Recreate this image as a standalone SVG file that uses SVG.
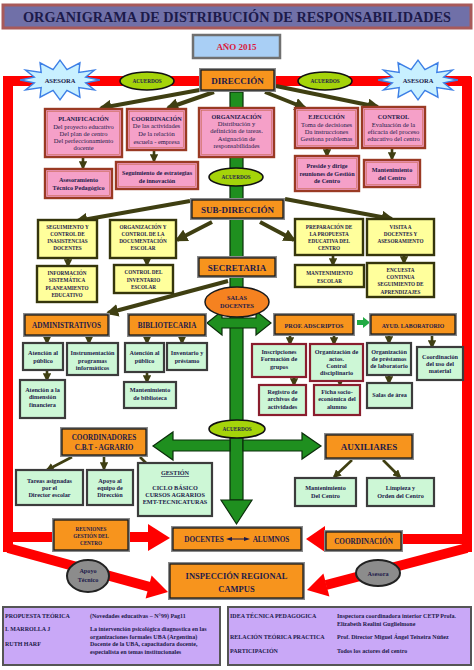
<svg xmlns="http://www.w3.org/2000/svg" width="474" height="670" viewBox="0 0 474 670">
<defs>
<style>
text{font-family:"Liberation Serif","Times New Roman",serif;fill:#1c1a4a;text-anchor:middle;font-weight:bold}
.n{font-weight:normal}
.og{fill:#8a8a8a}
.oi{fill:#f7941d;stroke:#1a1a1a;stroke-width:1.3}
.pk{fill:#f5a0c8;stroke:#9a3a24;stroke-width:2.4}
.pki{fill:none;stroke:#c86a54;stroke-width:0.6}
.yl{fill:#ffff9c;stroke:#35350c;stroke-width:2.4}
.gr{fill:#cdf7d6;stroke:#3c3c3c;stroke-width:2.2}
.grm{fill:#cdf7d6;stroke:#8a1e2e;stroke-width:2.2}
.ac{fill:#a5d40a;stroke:#111;stroke-width:1.6}
.con{stroke:#3f3f12;fill:none;marker-end:url(#ah)}
.w4{stroke-width:4}
.w3{stroke-width:2.6}
.red{fill:none;stroke:#ff0000;stroke-width:10}
.redf{fill:#ff0000}
.gf{fill:#1f8f1f;stroke:#0b2e0b;stroke-width:1.2}
.bu{fill:#c8f0ff;stroke:#3d7fe6;stroke-width:1.5}
.gy{fill:#8c8c8c;stroke:#222;stroke-width:2}
.pan{fill:#c9a8f7;stroke:#555;stroke-width:2}
.t5{font-size:5.2px}
.t6{font-size:6.2px}
.t65{font-size:6.5px}
.t7{font-size:7.2px}
.t9{font-size:9px}
.lt{text-anchor:start;font-size:6px}
</style>
<marker id="ah" viewBox="0 0 10 10" refX="8" refY="5" markerWidth="3.2" markerHeight="3.2" orient="auto"><path d="M0,0L10,5L0,10z" fill="#3f3f12"/></marker>
<polygon id="burst" class="bu" points="42,0 27,3.1 36.4,11 19.8,8.5 21,19.1 7.3,11.6 0,22 -7.3,11.6 -21,19.1 -19.8,8.5 -36.4,11 -27,3.1 -42,0 -27,-3.1 -36.4,-11 -19.8,-8.5 -21,-19.1 -7.3,-11.6 0,-22 7.3,-11.6 21,-19.1 19.8,-8.5 36.4,-11 27,-3.1"/>
</defs>
<rect width="474" height="670" fill="#fff"/>

<g id="title">
<rect x="3" y="5" width="468" height="23" fill="#7070a8" stroke="#a85a5a" stroke-width="3"/>
<text x="237" y="22" font-size="14" textLength="428" lengthAdjust="spacingAndGlyphs" fill="#15153f">ORGANIGRAMA DE DISTRIBUCIÓN DE RESPONSABILIDADES</text>
</g>
<g id="anio">
<rect x="193" y="35" width="87" height="23" fill="#a9cff5" stroke="#707070" stroke-width="2.5"/>
<text x="236.5" y="50" class="t9" style="fill:#d9183b">AÑO 2015</text>
</g>

<g id="frame">
<line class="red" x1="3" y1="81" x2="471" y2="81"/>
<line class="red" x1="8" y1="77" x2="8" y2="552"/>
<line class="red" x1="467" y1="77" x2="467" y2="552"/>
<line class="red" x1="8" y1="537" x2="150" y2="537" stroke-width="11"/>
<polygon class="redf" points="148,524 170,538 148,551"/>
<line class="red" x1="467" y1="539" x2="322" y2="539" stroke-width="11"/>
<polygon class="redf" points="325,526 306,539 325,552"/>
<line class="red" x1="8" y1="548" x2="150" y2="587" stroke-width="11"/>
<polygon class="redf" points="168,592 145.6,598.6 151.6,575.4"/>
<line class="red" x1="467" y1="548" x2="326" y2="585" stroke-width="11"/>
<polygon class="redf" points="307,590 329.4,596.6 323.4,573.4"/>
</g>

<g id="trunk">
<rect class="gf" x="230" y="92" width="13" height="408"/>
<polygon class="gf" points="221,500 252,500 236.5,524"/>
<polygon class="gf" points="230,440 173,440 173,432 153,446 173,460 173,451 230,451"/>
<polygon class="gf" points="243,440 302,440 302,433 321,446 302,459 302,451 243,451"/>
<polygon class="gf" points="207,323 222,311 222,318 256,318 256,311 271,323 256,335 256,328 222,328 222,335"/>
<polygon points="357,320 363,320 363,317 370,322.5 363,328 363,325 357,325" fill="#22aa44"/>
</g>

<g id="connectors">
<line class="con w4" x1="205" y1="89" x2="101" y2="108"/>
<line class="con w4" x1="214" y1="92" x2="168" y2="108"/>
<line class="con w4" x1="265" y1="92" x2="305" y2="108"/>
<line class="con w4" x1="276" y1="86" x2="378" y2="107"/>
<line class="con w3" x1="83" y1="157" x2="83" y2="168"/>
<line class="con w3" x1="154" y1="150" x2="154" y2="161"/>
<line class="con w3" x1="327" y1="148" x2="327" y2="156"/>
<line class="con w3" x1="392" y1="148" x2="392" y2="159"/>
<line class="con w4" x1="190" y1="201" x2="77" y2="221"/>
<line class="con w4" x1="212" y1="222" x2="177" y2="240"/>
<line class="con w4" x1="260" y1="222" x2="294" y2="240"/>
<line class="con w4" x1="285" y1="199" x2="392" y2="219"/>
<line class="con w3" x1="68" y1="258" x2="68" y2="266"/>
<line class="con w3" x1="147" y1="258" x2="147" y2="265"/>
<line class="con w3" x1="333" y1="255" x2="333" y2="265"/>
<line class="con w3" x1="404" y1="255" x2="404" y2="263"/>
<line class="con w4" x1="228" y1="281" x2="108" y2="313"/>
<line class="con w3" x1="47" y1="337" x2="47" y2="343"/>
<line class="con w3" x1="89" y1="337" x2="89" y2="343"/>
<line class="con w3" x1="47" y1="370" x2="47" y2="380"/>
<line class="con w3" x1="147" y1="337" x2="147" y2="343"/>
<line class="con w3" x1="182" y1="337" x2="182" y2="343"/>
<line class="con w3" x1="147" y1="372" x2="147" y2="382"/>
<line class="con w3" x1="290" y1="336" x2="290" y2="344"/>
<line class="con w3" x1="334" y1="336" x2="334" y2="344"/>
<line class="con w3" x1="294" y1="377" x2="294" y2="385"/>
<line class="con w3" x1="340" y1="380" x2="340" y2="385"/>
<line class="con w3" x1="389" y1="336" x2="389" y2="343"/>
<line class="con w3" x1="432" y1="336" x2="432" y2="347"/>
<line class="con w3" x1="389" y1="375" x2="389" y2="383"/>
<line class="con w3" x1="72" y1="457" x2="47" y2="470"/>
<line class="con w3" x1="104" y1="457" x2="104" y2="469"/>
<line class="con w3" x1="140" y1="457" x2="155" y2="472"/>
<line class="con w3" x1="352" y1="460" x2="334" y2="477"/>
<line class="con w3" x1="383" y1="460" x2="400" y2="477"/>
</g>

<g id="asesora-l"><use href="#burst" transform="translate(60,80) scale(0.95,0.9)"/><text x="60" y="83" class="t65">ASESORA</text></g>
<g id="asesora-r"><use href="#burst" transform="translate(418,80) scale(0.95,0.9)"/><text x="418" y="83" class="t65">ASESORA</text></g>
<g id="acuerdos-1"><ellipse class="ac" cx="147" cy="81" rx="27" ry="9"/><text x="147" y="83" class="t5">ACUERDOS</text></g>
<g id="acuerdos-2"><ellipse class="ac" cx="325" cy="81" rx="27" ry="9"/><text x="325" y="83" class="t5">ACUERDOS</text></g>

<g id="direccion"><rect class="og" x="199" y="68" width="77" height="24"/><rect class="oi" x="201" y="70" width="73" height="20"/><text x="237.5" y="84" class="t9">DIRECCIÓN</text></g>

<g id="planificacion"><rect class="pk" x="45" y="109" width="77" height="48"/><rect class="pki" x="47.5" y="111.5" width="72" height="43"/>
<text x="83.5" y="121" class="t6">PLANIFICACIÓN</text>
<text x="83.5" y="129" class="t65 n">Del proyecto educativo</text>
<text x="83.5" y="136" class="t65 n">Del plan de centro</text>
<text x="83.5" y="143" class="t65 n">Del perfeccionamiento</text>
<text x="83.5" y="150" class="t65 n">docente</text></g>
<g id="coordinacion"><rect class="pk" x="127" y="109" width="59" height="41"/><rect class="pki" x="129.5" y="111.5" width="54" height="36"/>
<text x="156.5" y="121" class="t6">COORDINACIÓN</text>
<text x="156.5" y="128" class="t65 n">De las actividades</text>
<text x="156.5" y="136" class="t65 n">De la relación</text>
<text x="156.5" y="144" class="t65 n">escuela - empresa</text></g>
<g id="organizacion"><rect class="pk" x="199" y="108" width="75" height="49"/><rect class="pki" x="201.5" y="110.5" width="70" height="44"/>
<text x="236.5" y="119" class="t6">ORGANIZACIÓN</text>
<text x="236.5" y="126" class="t65 n">Distribución  y</text>
<text x="236.5" y="133" class="t65 n">definición de tareas.</text>
<text x="236.5" y="141" class="t65 n">Asignación de</text>
<text x="236.5" y="148" class="t65 n">responsabilidades</text></g>
<g id="ejecucion"><rect class="pk" x="295" y="108" width="63" height="40"/><rect class="pki" x="297.5" y="110.5" width="58" height="35"/>
<text x="326.5" y="119" class="t6">EJECUCIÓN</text>
<text x="326.5" y="127" class="t65 n">Toma de decisiones</text>
<text x="326.5" y="134" class="t65 n">Da instrucciones</text>
<text x="326.5" y="141" class="t65 n">Gestiona problemas</text></g>
<g id="control"><rect class="pk" x="362" y="107" width="63" height="41"/><rect class="pki" x="364.5" y="109.5" width="58" height="36"/>
<text x="393.5" y="119" class="t6">CONTROL</text>
<text x="393.5" y="127" class="t65 n">Evaluación de la</text>
<text x="393.5" y="134" class="t65 n">eficacia del proceso</text>
<text x="393.5" y="141" class="t65 n">educativo del centro</text></g>

<g id="asesoramiento"><rect class="pk" x="45" y="169" width="67" height="29"/><rect class="pki" x="47.5" y="171.5" width="62" height="24"/>
<text x="78.5" y="182" class="t6">Asesoramiento</text><text x="78.5" y="189.5" class="t6">Técnico Pedagógico</text></g>
<g id="seguimiento-estrategias"><rect class="pk" x="116" y="162" width="82" height="27"/><rect class="pki" x="118.5" y="164.5" width="77" height="22"/>
<text x="157" y="175" class="t6">Seguimiento de estrategias</text><text x="157" y="182.5" class="t6">de innovación</text></g>
<g id="preside"><rect class="pk" x="295" y="156" width="64" height="35"/><rect class="pki" x="297.5" y="158.5" width="59" height="30"/>
<text x="327" y="168" class="t6">Preside y dirige</text><text x="327" y="175.5" class="t6">reuniones de Gestión</text><text x="327" y="183" class="t6">de Centro</text></g>
<g id="mantenimiento-centro"><rect class="pk" x="364" y="160" width="56" height="27"/><rect class="pki" x="366.5" y="162.5" width="51" height="22"/>
<text x="392" y="172" class="t6">Mantenimiento</text><text x="392" y="180" class="t6">del Centro</text></g>

<g id="acuerdos-3"><ellipse class="ac" cx="236" cy="177" rx="27" ry="9"/><text x="236" y="179" class="t5">ACUERDOS</text></g>

<g id="subdireccion"><rect class="og" x="190" y="198" width="95" height="22"/><rect class="oi" x="192" y="200" width="91" height="18"/><text x="237.5" y="213" class="t9">SUB-DIRECCIÓN</text></g>

<g id="seg-inasistencias"><rect class="yl" x="38" y="220" width="59" height="38"/>
<text x="67.5" y="229" class="t5">SEGUIMIENTO Y</text><text x="67.5" y="236" class="t5">CONTROL DE</text><text x="67.5" y="243" class="t5">INASISTENCIAS</text><text x="67.5" y="250" class="t5">DOCENTES</text></g>
<g id="org-documentacion"><rect class="yl" x="110" y="220" width="66" height="38"/>
<text x="143" y="229" class="t5">ORGANIZACIÓN  Y</text><text x="143" y="236" class="t5">CONTROL DE LA</text><text x="143" y="243" class="t5">DOCUMENTACIÓN</text><text x="143" y="250" class="t5">ESCOLAR</text></g>
<g id="informacion"><rect class="yl" x="37" y="266" width="60" height="36"/>
<text x="67" y="275" class="t5">INFORMACIÓN</text><text x="67" y="282" class="t5">SISTEMÁTICA</text><text x="67" y="290" class="t5">PLANEAMIENTO</text><text x="67" y="297" class="t5">EDUCATIVO</text></g>
<g id="control-inventario"><rect class="yl" x="114" y="265" width="59" height="28"/>
<text x="143.5" y="274" class="t5">CONTROL DEL</text><text x="143.5" y="282" class="t5">INVENTARIO</text><text x="143.5" y="289" class="t5">ESCOLAR</text></g>
<g id="preparacion"><rect class="yl" x="295" y="219" width="68" height="36"/>
<text x="329" y="229" class="t5">PREPARACIÓN DE</text><text x="329" y="236" class="t5">LA PROPUESTA</text><text x="329" y="243" class="t5">EDUCATIVA DEL</text><text x="329" y="250" class="t5">CENTRO</text></g>
<g id="visita"><rect class="yl" x="367" y="219" width="67" height="36"/>
<text x="400.5" y="229" class="t5">VISITA A</text><text x="400.5" y="236" class="t5">DOCENTES Y</text><text x="400.5" y="243" class="t5">ASESORAMIENTO</text></g>
<g id="mant-escolar"><rect class="yl" x="295" y="265" width="69" height="22"/>
<text x="329.5" y="275" class="t5">MANTENIMIENTO</text><text x="329.5" y="283" class="t5">ESCOLAR</text></g>
<g id="encuesta"><rect class="yl" x="367" y="263" width="67" height="34"/>
<text x="400.5" y="272" class="t5">ENCUESTA</text><text x="400.5" y="279" class="t5">CONTINUA</text><text x="400.5" y="286" class="t5">SEGUIMIENTO DE</text><text x="400.5" y="294" class="t5">APRENDIZAJES</text></g>

<g id="secretaria"><rect class="og" x="197" y="256" width="80" height="22"/><rect class="oi" x="199" y="258" width="76" height="18"/><text x="237" y="271" class="t9">SECRETARIA</text></g>
<g id="salas-docentes"><ellipse cx="237" cy="302" rx="32" ry="15" fill="#f58220" stroke="#1a1a1a" stroke-width="1.5"/><text x="237" y="300" class="t6">SALAS</text><text x="237" y="308" class="t6">DOCENTES</text></g>

<g id="administrativos"><rect class="og" x="23" y="313" width="87" height="24"/><rect class="oi" x="25" y="315" width="83" height="20"/><text x="66.5" y="328" class="t7">ADMINISTRATIVOS</text></g>
<g id="bibliotecaria"><rect class="og" x="127" y="313" width="80" height="24"/><rect class="oi" x="129" y="315" width="76" height="20"/><text x="167" y="328" class="t7">BIBLIOTECARIA</text></g>
<g id="prof-adscriptos"><rect class="og" x="273" y="313" width="82" height="23"/><rect class="oi" x="275" y="315" width="78" height="19"/><text x="314" y="327.5" class="t6">PROF. ADSCRIPTOS</text></g>
<g id="ayud-laboratorio"><rect class="og" x="369" y="313" width="88" height="23"/><rect class="oi" x="371" y="315" width="84" height="19"/><text x="413" y="327.5" style="font-size:5.8px">AYUD. LABORATORIO</text></g>

<g id="adm-atencion"><rect class="gr" x="23" y="343" width="40" height="27"/><text x="43" y="355" class="t6">Atención al</text><text x="43" y="363" class="t6">público</text></g>
<g id="adm-instrumentacion"><rect class="gr" x="67" y="343" width="51" height="32"/><text x="92.5" y="355" class="t6">Instrumentación</text><text x="92.5" y="363" class="t6">programas</text><text x="92.5" y="370" class="t6">informáticos</text></g>
<g id="adm-financiera"><rect class="gr" x="20" y="380" width="45" height="38"/><text x="42.5" y="392" class="t6">Atención a la</text><text x="42.5" y="399" class="t6">dimensión</text><text x="42.5" y="407" class="t6">financiera</text></g>
<g id="bib-atencion"><rect class="gr" x="125" y="343" width="39" height="29"/><text x="144.5" y="355" class="t6">Atención al</text><text x="144.5" y="363" class="t6">público</text></g>
<g id="bib-inventario"><rect class="gr" x="167" y="343" width="40" height="27"/><text x="187" y="355" class="t6">Inventario y</text><text x="187" y="363" class="t6">préstamo</text></g>
<g id="bib-mantenimiento"><rect class="gr" x="124" y="382" width="52" height="26"/><text x="150" y="392" class="t6">Mantenimiento</text><text x="150" y="400" class="t6">de biblioteca</text></g>

<g id="inscripciones"><rect class="grm" x="252" y="344" width="54" height="33"/><text x="279" y="354" class="t6">Inscripciones</text><text x="279" y="361" class="t6">Formación de</text><text x="279" y="369" class="t6">grupos</text></g>
<g id="org-actos"><rect class="grm" x="310" y="344" width="53" height="37"/><text x="336.5" y="354" class="t6">Organización de</text><text x="336.5" y="361" class="t6">actos.</text><text x="336.5" y="368" class="t6">Control</text><text x="336.5" y="375" class="t6">disciplinario</text></g>
<g id="registro"><rect class="grm" x="259" y="385" width="47" height="30"/><text x="282.5" y="394" class="t6">Registro de</text><text x="282.5" y="401" class="t6">archivos de</text><text x="282.5" y="409" class="t6">actividades</text></g>
<g id="ficha"><rect class="grm" x="314" y="385" width="46" height="30"/><text x="337" y="394" class="t6">Ficha socio-</text><text x="337" y="401" class="t6">económica del</text><text x="337" y="409" class="t6">alumno</text></g>
<g id="org-prestamos"><rect class="gr" x="367" y="343" width="44" height="32"/><text x="389" y="354" class="t6">Organización</text><text x="389" y="361" class="t6">de préstamos</text><text x="389" y="368" class="t6">de laboratorio</text></g>
<g id="coord-uso"><rect class="gr" x="417" y="347" width="46" height="33"/><text x="440" y="359" class="t6">Coordinación</text><text x="440" y="366" class="t6">del uso del</text><text x="440" y="373" class="t6">material</text></g>
<g id="salas-area"><rect class="gr" x="367" y="383" width="45" height="25"/><text x="389.5" y="397" class="t6">Salas de área</text></g>

<g id="acuerdos-4"><ellipse class="ac" cx="237" cy="429" rx="28" ry="9"/><text x="237" y="431" class="t5">ACUERDOS</text></g>

<g id="coordinadores"><rect class="og" x="60" y="427" width="88" height="30"/><rect class="oi" x="62" y="429" width="84" height="26"/><text x="104" y="440" class="t7">COORDINADORES</text><text x="104" y="449.5" class="t7">C.B.T - AGRARIO</text></g>
<g id="tareas"><rect class="gr" x="16" y="470" width="67" height="35"/><text x="49.5" y="483" class="t6">Tareas asignadas</text><text x="49.5" y="490" class="t6">por el</text><text x="49.5" y="497" class="t6">Director escolar</text></g>
<g id="apoyo-equipo"><rect class="gr" x="87" y="470" width="46" height="35"/><text x="110" y="483" class="t6">Apoyo al</text><text x="110" y="490" class="t6">equipo de</text><text x="110" y="497" class="t6">Dirección</text></g>
<g id="gestion"><rect class="gr" x="138" y="463" width="74" height="53"/><text x="175" y="475" class="t6" text-decoration="underline">GESTIÓN</text><text x="175" y="490" class="t6">CICLO BÁSICO</text><text x="175" y="497" class="t6">CURSOS AGRARIOS</text><text x="175" y="504" class="t6">EMT-TECNICATURAS</text></g>

<g id="auxiliares"><rect class="og" x="324" y="433" width="90" height="27"/><rect class="oi" x="326" y="435" width="86" height="23"/><text x="369" y="450" class="t9">AUXILIARES</text></g>
<g id="aux-mantenimiento"><rect class="gr" x="295" y="478" width="61" height="28"/><text x="325.5" y="490" class="t6">Mantenimiento</text><text x="325.5" y="498" class="t6">Del Centro</text></g>
<g id="aux-limpieza"><rect class="gr" x="367" y="478" width="67" height="28"/><text x="400.5" y="490" class="t6">Limpieza y</text><text x="400.5" y="498" class="t6">Orden del Centro</text></g>

<g id="reuniones"><rect class="og" x="52" y="518" width="78" height="34"/><rect class="oi" x="54" y="520" width="74" height="30"/><text x="91" y="531" class="t5">REUNIONES</text><text x="91" y="538" class="t5">GESTIÓN DEL</text><text x="91" y="545" class="t5">CENTRO</text></g>
<g id="docentes-alumnos"><rect class="og" x="171" y="526" width="132" height="26"/><rect class="oi" x="173" y="528" width="128" height="22"/>
<text x="204" y="542" class="t7">DOCENTES</text><text x="271" y="542" class="t7">ALUMNOS</text>
<line x1="230" y1="539" x2="246" y2="539" stroke="#1c1a4a" stroke-width="1"/>
<polygon points="226,539 232,537 232,541" fill="#1c1a4a"/><polygon points="250,539 244,537 244,541" fill="#1c1a4a"/></g>
<g id="coordinacion-b"><rect class="og" x="324" y="530" width="79" height="22"/><rect class="oi" x="326" y="532" width="75" height="18"/><text x="363.5" y="544" class="t7">COORDINACIÓN</text></g>

<g id="apoyo-tecnico"><ellipse class="gy" cx="88" cy="576" rx="21" ry="16"/><text x="88" y="573" class="t6">Apoyo</text><text x="88" y="582" class="t6">Técnico</text></g>
<g id="asesora-b"><ellipse class="gy" cx="378" cy="573" rx="22" ry="13"/><text x="378" y="575.5" class="t6">Asesora</text></g>

<g id="inspeccion"><rect class="og" x="168" y="562" width="137" height="38"/><rect class="oi" x="170" y="564" width="133" height="34"/><text x="236.5" y="579" style="font-size:8.5px">INSPECCIÓN REGIONAL</text><text x="236.5" y="592" style="font-size:8.5px">CAMPUS</text></g>

<g id="panel-left"><rect class="pan" x="3" y="607" width="217" height="58"/>
<text x="5" y="618" class="lt">PROPUESTA TEÓRICA</text>
<text x="90" y="618" class="lt">(Novedades educativas – N°99) Pag11</text>
<text x="5" y="631" class="lt">I. MARROLLA  J</text>
<text x="90" y="631" class="lt">La intervención psicológica diagnostica en las</text>
<text x="90" y="638.5" class="lt">organizaciones formales UBA (Argentina)</text>
<text x="5" y="646" class="lt">RUTH HARF</text>
<text x="90" y="646" class="lt">Docente de la UBA, capacitadora docente,</text>
<text x="90" y="653.5" class="lt">especialista en temas institucionales</text></g>
<g id="panel-right"><rect class="pan" x="228" y="607" width="243" height="58"/>
<text x="230" y="618" class="lt">IDEA TÉCNICA PEDAGOGICA</text>
<text x="337" y="618" class="lt">Inspectora coordinadora interior CETP Profa.</text>
<text x="337" y="625.5" class="lt">Elizabeth  Realini Guglielmone</text>
<text x="230" y="639" class="lt">RELACIÓN TEÓRICA PRACTICA</text>
<text x="337" y="639" class="lt">Prof. Director Miguel Ángel Teixeira Núñez</text>
<text x="230" y="653" class="lt">PARTICIPACIÓN</text>
<text x="337" y="653" class="lt">Todos los actores del centro</text></g>
</svg>
